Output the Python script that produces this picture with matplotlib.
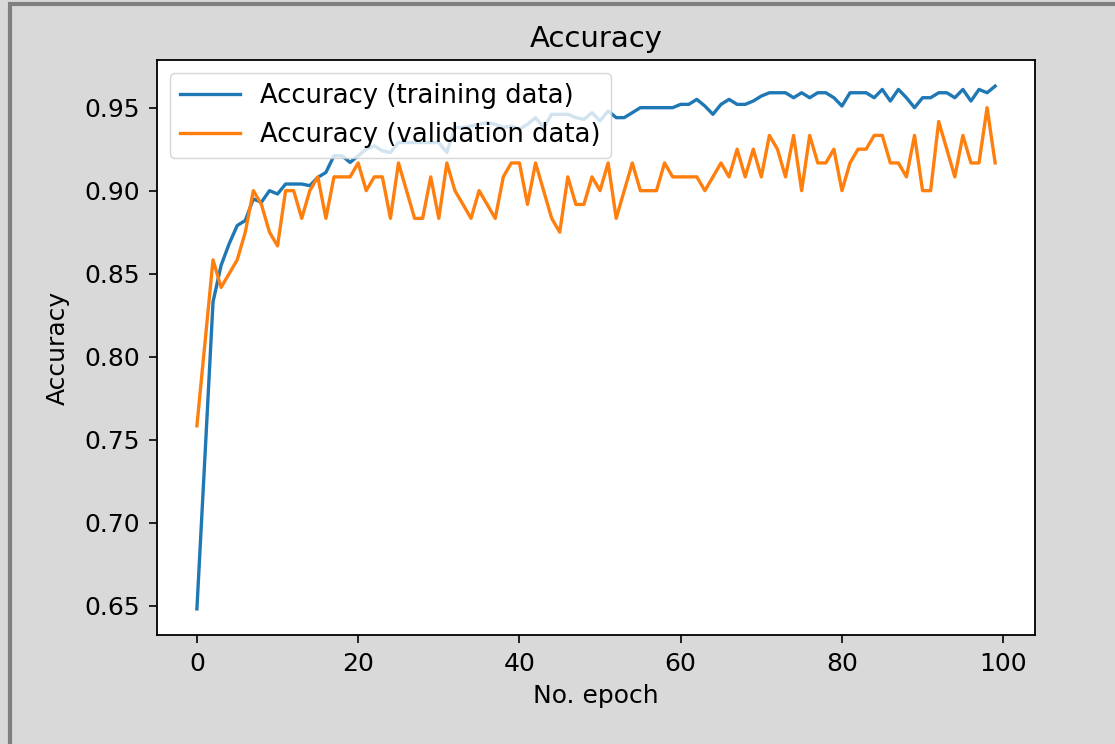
import numpy as np
import matplotlib
matplotlib.use("Agg")
import matplotlib.pyplot as plt
from matplotlib.patches import Rectangle

# accuracy per epoch
train_acc = [0.648, 0.740, 0.833, 0.855, 0.868, 0.879, 0.882, 0.895, 0.893, 0.900,
             0.898, 0.904, 0.904, 0.904, 0.903, 0.908, 0.911, 0.921, 0.921, 0.917,
             0.921, 0.925, 0.927, 0.924, 0.923, 0.929, 0.929, 0.929, 0.929, 0.929,
             0.929, 0.923, 0.938, 0.938, 0.939, 0.940, 0.941, 0.940, 0.938, 0.939,
             0.937, 0.940, 0.944, 0.938, 0.946, 0.946, 0.946, 0.944, 0.943, 0.947,
             0.942, 0.948, 0.944, 0.944, 0.947, 0.950, 0.950, 0.950, 0.950, 0.950,
             0.952, 0.952, 0.955, 0.951, 0.946, 0.952, 0.955, 0.952, 0.952, 0.954,
             0.957, 0.959, 0.959, 0.959, 0.956, 0.959, 0.956, 0.959, 0.959, 0.956,
             0.951, 0.959, 0.959, 0.959, 0.956, 0.961, 0.954, 0.961, 0.956, 0.950,
             0.956, 0.956, 0.959, 0.959, 0.956, 0.961, 0.954, 0.961, 0.959, 0.963]

val_acc = [0.7583, 0.8083, 0.8583, 0.8417, 0.8500, 0.8583, 0.8750, 0.9000, 0.8917, 0.8750,
           0.8667, 0.9000, 0.9000, 0.8833, 0.9000, 0.9083, 0.8833, 0.9083, 0.9083, 0.9083,
           0.9167, 0.9000, 0.9083, 0.9083, 0.8833, 0.9167, 0.9000, 0.8833, 0.8833, 0.9083,
           0.8833, 0.9167, 0.9000, 0.8917, 0.8833, 0.9000, 0.8917, 0.8833, 0.9083, 0.9167,
           0.9167, 0.8917, 0.9167, 0.9000, 0.8833, 0.8750, 0.9083, 0.8917, 0.8917, 0.9083,
           0.9000, 0.9167, 0.8833, 0.9000, 0.9167, 0.9000, 0.9000, 0.9000, 0.9167, 0.9083,
           0.9083, 0.9083, 0.9083, 0.9000, 0.9083, 0.9167, 0.9083, 0.9250, 0.9083, 0.9250,
           0.9083, 0.9333, 0.9250, 0.9083, 0.9333, 0.9000, 0.9333, 0.9167, 0.9167, 0.9250,
           0.9000, 0.9167, 0.9250, 0.9250, 0.9333, 0.9333, 0.9167, 0.9167, 0.9083, 0.9333,
           0.9000, 0.9000, 0.9417, 0.9250, 0.9083, 0.9333, 0.9167, 0.9167, 0.9500, 0.9167]

epochs = np.arange(len(train_acc))

fig = plt.figure(figsize=(11.15, 7.44), dpi=100, facecolor='#d9d9d9')
fig.patches.append(Rectangle((0.009, -0.05), 1.05, 1.045, transform=fig.transFigure,
                             facecolor='none', edgecolor='#7f7f7f', linewidth=3))
ax = fig.add_axes([0.1408, 0.1465, 0.7875, 0.7729])

ax.plot(epochs, train_acc, label='Accuracy (training data)', linewidth=2.4)
ax.plot(epochs, val_acc, label='Accuracy (validation data)', linewidth=2.4)

ax.set_title('Accuracy', fontsize=21, pad=9)
ax.set_xlabel('No. epoch', fontsize=18, labelpad=6)
ax.set_ylabel('Accuracy', fontsize=18, labelpad=11)
ax.set_yticks([0.65, 0.70, 0.75, 0.80, 0.85, 0.90, 0.95])
ax.tick_params(labelsize=18, length=6, width=1.2, pad=6)
for s in ax.spines.values():
    s.set_linewidth(1.3)

ax.legend(loc='upper left', fontsize=18.6, handlelength=2.3)

fig.savefig('out.png', dpi=100, facecolor=fig.get_facecolor())
